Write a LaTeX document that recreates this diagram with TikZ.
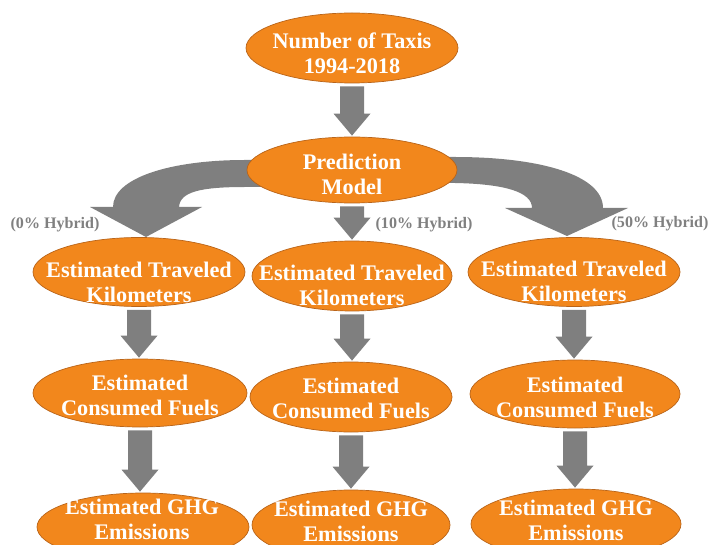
\documentclass[tikz,border=0pt]{standalone}
\usepackage{fontspec}
\setmainfont{Liberation Serif}
\usetikzlibrary{shapes.geometric,calc}
\definecolor{orfill}{RGB}{242,135,28}
\definecolor{ordraw}{RGB}{185,100,25}
\definecolor{arrgray}{RGB}{127,127,127}
\definecolor{labgray}{RGB}{128,128,128}
\tikzset{
  ell/.style 2 args={ellipse, fill=orfill, draw=ordraw, line width=0.6pt, inner sep=0pt,
     minimum width=#1*0.06cm, minimum height=#2*0.06cm},
  etext/.style={text=white, font=\bfseries\fontsize{19}{21.3}\selectfont, align=center, inner sep=0pt},
  hlabel/.style={text=labgray, font=\bfseries\fontsize{13.7}{16}\selectfont, inner sep=0pt},
  blk/.style={fill=arrgray}
}
\newcommand\blockarr[2]{%
  \fill[blk] let \p1=(#1.south), \p2=(#2.north) in
    (\x1-0.36cm,\y1-0.09cm) -- (\x1+0.36cm,\y1-0.09cm) -- (\x1+0.36cm,\y2+0.69cm)
    -- (\x1+0.555cm,\y2+0.69cm) -- (\x1,\y2+0.03cm) -- (\x1-0.555cm,\y2+0.69cm)
    -- (\x1-0.36cm,\y2+0.69cm) -- cycle;}
\begin{document}
\begin{tikzpicture}[x=0.03cm,y=-0.03cm]
\useasboundingbox (0,0) rectangle (710,545);
% curved arrows (behind the ellipses)
\fill[blk] (300,160) -- (245,160) .. controls (170,160) and (113,178) .. (113,207)
  -- (90,207) -- (146,237) -- (202,207) -- (179,207)
  .. controls (180,192) and (200,187) .. (245,187) -- (300,187) -- cycle;
\fill[blk] (400,157) -- (455,157) .. controls (540,157) and (603,175) .. (603,208)
  -- (628,208) -- (567,236) -- (505,208) -- (532,208)
  .. controls (532,192) and (505,184) .. (455,183) -- (400,183) -- cycle;
% ellipses
\node[ell={106}{35}] (T) at (352,48) {};
\node[ell={105}{33}] (P) at (352,170) {};
\node[ell={106}{34.5}] (L2) at (139,272) {};
\node[ell={100}{35}] (M2) at (352,276) {};
\node[ell={106}{34.5}] (R2) at (574,272) {};
\node[ell={107}{34}] (L3) at (140,393) {};
\node[ell={101}{35}] (M3) at (351,397) {};
\node[ell={105}{34}] (R3) at (575,394) {};
\node[ell={106}{34}] (L4) at (143,527) {};
\node[ell={99}{35}] (M4) at (351,525) {};
\node[ell={105}{35}] (R4) at (576,524) {};
% texts
\node[etext] (tT) at (352,53) {Number of Taxis\\1994-2018};
\node[etext] (tP) at (352,174.5) {Prediction\\Model};
\node[etext] (tL2) at (139,282) {Estimated Traveled\\Kilometers};
\node[etext] (tM2) at (352,285) {Estimated Traveled\\Kilometers};
\node[etext] (tR2) at (574,281) {Estimated Traveled\\Kilometers};
\node[etext] (tL3) at (140,395.5) {Estimated\\Consumed Fuels};
\node[etext] (tM3) at (351,398) {Estimated\\Consumed Fuels};
\node[etext] (tR3) at (575,397) {Estimated\\Consumed Fuels};
\node[etext] (tL4) at (142,519) {Estimated GHG\\Emissions};
\node[etext] (tM4) at (351,521) {Estimated GHG\\Emissions};
\node[etext] (tR4) at (576,520) {Estimated GHG\\Emissions};
% labels
\node[hlabel] (l0) at (55,225) {(0\% Hybrid)};
\node[hlabel] (l10) at (424,225) {(10\% Hybrid)};
\node[hlabel] (l50) at (660,224) {(50\% Hybrid)};
% straight block arrows
\blockarr{T}{P}
\blockarr{P}{M2}
\blockarr{L2}{L3}
\blockarr{M2}{M3}
\blockarr{R2}{R3}
\blockarr{L3}{L4}
\blockarr{M3}{M4}
\blockarr{R3}{R4}
\end{tikzpicture}
\end{document}
